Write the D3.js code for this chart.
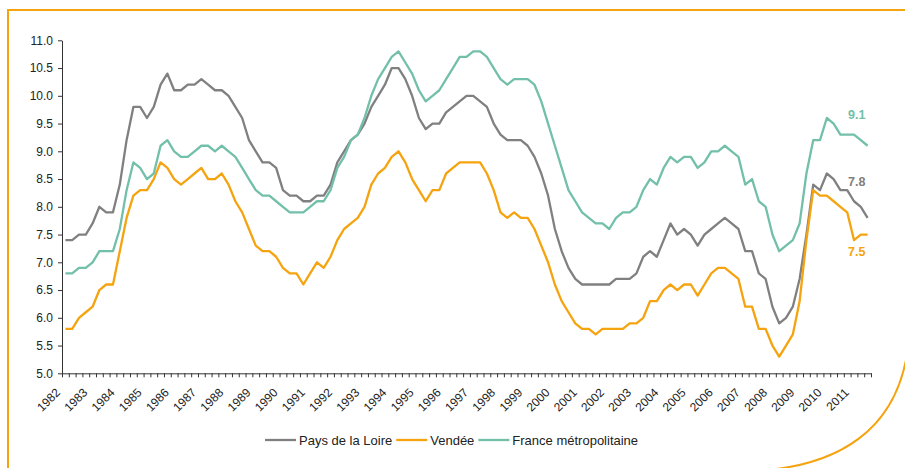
<!DOCTYPE html>
<html>
<head>
<meta charset="utf-8">
<script src="https://cdn.jsdelivr.net/npm/d3@7"></script>
<style>
  html, body { margin: 0; padding: 0; background: #fff; }
  svg { display: block; font-family: "Liberation Sans", Arial, sans-serif; }
</style>
</head>
<body>
<svg id="chart" width="905" height="468"></svg>
<script>
// ---- data (quarterly unemployment rate, %, 1982 Q1 - 2011 Q3) ----
const years = d3.range(1982, 2012);
const yearLabels = years.map(String);
const quarterNames = ["T1", "T2", "T3", "T4"];
const categories = [];
years.forEach(yr => quarterNames.forEach(q => categories.push(yr + " " + q)));
categories.length = 119; // last quarter shown: 2011 T3

const seriesNames = ["Pays de la Loire", "Vendée", "France métropolitaine"];
const seriesColors = ["#808080", "#F5A30F", "#72BFAA"];

const paysDeLaLoire = [
  7.4,7.4,7.5,7.5, 7.7,8.0,7.9,7.9, 8.4,9.2,9.8,9.8, 9.6,9.8,10.2,10.4,
  10.1,10.1,10.2,10.2, 10.3,10.2,10.1,10.1, 10.0,9.8,9.6,9.2, 9.0,8.8,8.8,8.7,
  8.3,8.2,8.2,8.1, 8.1,8.2,8.2,8.4, 8.8,9.0,9.2,9.3, 9.5,9.8,10.0,10.2,
  10.5,10.5,10.3,10.0, 9.6,9.4,9.5,9.5, 9.7,9.8,9.9,10.0, 10.0,9.9,9.8,9.5,
  9.3,9.2,9.2,9.2, 9.1,8.9,8.6,8.2, 7.6,7.2,6.9,6.7, 6.6,6.6,6.6,6.6,
  6.6,6.7,6.7,6.7, 6.8,7.1,7.2,7.1, 7.4,7.7,7.5,7.6, 7.5,7.3,7.5,7.6,
  7.7,7.8,7.7,7.6, 7.2,7.2,6.8,6.7, 6.2,5.9,6.0,6.2, 6.7,7.5,8.4,8.3,
  8.6,8.5,8.3,8.3, 8.1,8.0,7.8
];
const vendee = [
  5.8,5.8,6.0,6.1, 6.2,6.5,6.6,6.6, 7.2,7.8,8.2,8.3, 8.3,8.5,8.8,8.7,
  8.5,8.4,8.5,8.6, 8.7,8.5,8.5,8.6, 8.4,8.1,7.9,7.6, 7.3,7.2,7.2,7.1,
  6.9,6.8,6.8,6.6, 6.8,7.0,6.9,7.1, 7.4,7.6,7.7,7.8, 8.0,8.4,8.6,8.7,
  8.9,9.0,8.8,8.5, 8.3,8.1,8.3,8.3, 8.6,8.7,8.8,8.8, 8.8,8.8,8.6,8.3,
  7.9,7.8,7.9,7.8, 7.8,7.6,7.3,7.0, 6.6,6.3,6.1,5.9, 5.8,5.8,5.7,5.8,
  5.8,5.8,5.8,5.9, 5.9,6.0,6.3,6.3, 6.5,6.6,6.5,6.6, 6.6,6.4,6.6,6.8,
  6.9,6.9,6.8,6.7, 6.2,6.2,5.8,5.8, 5.5,5.3,5.5,5.7, 6.3,7.4,8.3,8.2,
  8.2,8.1,8.0,7.9, 7.4,7.5,7.5
];
const franceMetro = [
  6.8,6.8,6.9,6.9, 7.0,7.2,7.2,7.2, 7.6,8.3,8.8,8.7, 8.5,8.6,9.1,9.2,
  9.0,8.9,8.9,9.0, 9.1,9.1,9.0,9.1, 9.0,8.9,8.7,8.5, 8.3,8.2,8.2,8.1,
  8.0,7.9,7.9,7.9, 8.0,8.1,8.1,8.3, 8.7,8.9,9.2,9.3, 9.6,10.0,10.3,10.5,
  10.7,10.8,10.6,10.4, 10.1,9.9,10.0,10.1, 10.3,10.5,10.7,10.7, 10.8,10.8,10.7,10.5,
  10.3,10.2,10.3,10.3, 10.3,10.2,9.9,9.5, 9.1,8.7,8.3,8.1, 7.9,7.8,7.7,7.7,
  7.6,7.8,7.9,7.9, 8.0,8.3,8.5,8.4, 8.7,8.9,8.8,8.9, 8.9,8.7,8.8,9.0,
  9.0,9.1,9.0,8.9, 8.4,8.5,8.1,8.0, 7.5,7.2,7.3,7.4, 7.7,8.6,9.2,9.2,
  9.6,9.5,9.3,9.3, 9.3,9.2,9.1
];
const yTicks = [5.0, 5.5, 6.0, 6.5, 7.0, 7.5, 8.0, 8.5, 9.0, 9.5, 10.0, 10.5, 11.0];
const seriesValues = [paysDeLaLoire, vendee, franceMetro];

// ---- layout ----
const svg = d3.select("#chart");
const plot = { left: 62, right: 871, top: 40.3, bottom: 373.3 };

// decoration (page frame)
const orange = "#F5A30F";
svg.append("line").attr("x1", 7).attr("x2", 905).attr("y1", 10).attr("y2", 10)
  .attr("stroke", orange).attr("stroke-width", 2);
svg.append("line").attr("x1", 8).attr("x2", 8).attr("y1", 9).attr("y2", 468)
  .attr("stroke", orange).attr("stroke-width", 2);
svg.append("path").attr("d", "M906,360 C892,430 840,463 768,470")
  .attr("fill", "none").attr("stroke", orange).attr("stroke-width", 2);

const x = d3.scaleBand().domain(categories).range([plot.left, plot.right]).padding(0);
const y = d3.scaleLinear().domain([5, 11]).range([plot.bottom, plot.top]);
const cx = c => x(c) + x.bandwidth() / 2;

// y axis
const yAxis = svg.append("g").attr("transform", `translate(${plot.left},0)`)
  .call(d3.axisLeft(y).tickValues(yTicks).tickFormat(d3.format(".1f")).tickSize(4).tickSizeOuter(0));
yAxis.select(".domain").attr("stroke", "#333").attr("stroke-width", 1);
yAxis.selectAll(".tick line").attr("stroke", "#333");
yAxis.selectAll(".tick text").attr("font-size", 12).attr("fill", "#222")
  .attr("font-family", "Liberation Sans, Arial, sans-serif").attr("x", -9);

// x axis: tick marks at category boundaries
const xb = d3.scaleLinear().domain([0, categories.length]).range([plot.left, plot.right]);
const xAxis = svg.append("g").attr("transform", `translate(0,${plot.bottom})`)
  .call(d3.axisBottom(xb).tickValues(d3.range(categories.length + 1)).tickFormat("").tickSize(4).tickSizeOuter(0));
xAxis.select(".domain").attr("stroke", "#333");
xAxis.selectAll(".tick line").attr("stroke", "#333");

// year labels, one per 4 quarters, rotated
svg.append("g").selectAll("text").data(yearLabels).join("text")
  .attr("transform", (d, i) => `translate(${x(categories[i * 4]) - 1},${plot.bottom + 20}) rotate(-45)`)
  .attr("text-anchor", "end")
  .attr("font-size", 12).attr("fill", "#222")
  .text(d => d);

// lines
const line = d3.line().x((d, i) => cx(categories[i])).y(d => y(d));
seriesValues.forEach((vals, k) => {
  svg.append("path").datum(vals).attr("d", line)
    .attr("fill", "none").attr("stroke", seriesColors[k])
    .attr("stroke-width", 2.3).attr("stroke-linejoin", "round");
});

// end labels
const endLabels = [
  { k: 2, dy: -26.5 },
  { k: 0, dy: -32 },
  { k: 1, dy: 21.5 }
];
endLabels.forEach(e => {
  const vals = seriesValues[e.k];
  const v = vals[vals.length - 1];
  svg.append("text")
    .attr("x", 848).attr("y", y(v) + e.dy)
    .attr("font-size", 12.5).attr("font-weight", "bold")
    .attr("fill", seriesColors[e.k])
    .text(d3.format(".1f")(v));
});

// legend
const legend = svg.append("g").attr("transform", "translate(0,440)");
let lx = 265;
seriesNames.forEach((name, k) => {
  legend.append("line").attr("x1", lx).attr("x2", lx + 31).attr("y1", 0).attr("y2", 0)
    .attr("stroke", seriesColors[k]).attr("stroke-width", 2.3);
  const t = legend.append("text").attr("x", lx + 34).attr("y", 4.5)
    .attr("font-size", 13).attr("fill", "#222").text(name);
  lx += 34 + t.node().getComputedTextLength() + 4;
});
</script>
</body>
</html>
